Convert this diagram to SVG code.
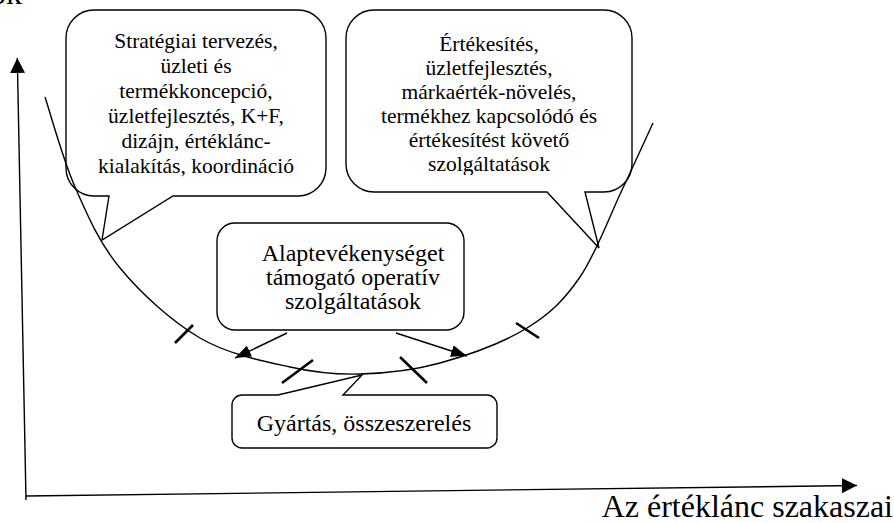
<svg xmlns="http://www.w3.org/2000/svg" width="894" height="523" viewBox="0 0 894 523">
<style>
.ln{fill:none;stroke:#000;stroke-width:1.4;stroke-linejoin:miter}
.bx{fill:#fff;stroke:#000;stroke-width:1.4}
.tk{stroke:#000;stroke-width:2.6;fill:none}
.t{font-family:"Liberation Serif","Times New Roman",serif;font-size:21.5px;fill:#000;text-anchor:middle}
.m{font-size:24px}
.big{font-family:"Liberation Serif","Times New Roman",serif;font-size:32px;fill:#000}
</style>
<defs>
<marker id="ah" viewBox="0 0 16 12" refX="16" refY="6" markerWidth="16" markerHeight="12" markerUnits="userSpaceOnUse" orient="auto">
<path d="M0,0 L16,6 L0,12 Z" fill="#000"/>
</marker>
<marker id="axh" viewBox="0 0 15 15" refX="15" refY="7.5" markerWidth="15" markerHeight="15" markerUnits="userSpaceOnUse" orient="auto">
<path d="M0,0 L15,7.5 L0,15 Z" fill="#000"/>
</marker>
<clipPath id="c2"><rect x="340" y="0" width="300" height="175"/></clipPath>
</defs>

<g id="axes">
<text class="big" x="-10" y="4">ok</text>
<line class="ln" x1="26" y1="500" x2="17.3" y2="58" marker-end="url(#axh)"/>
<line class="ln" x1="26" y1="496" x2="857" y2="485.5" marker-end="url(#axh)"/>
<text class="big" x="893" y="517" text-anchor="end">Az értéklánc szakaszai</text>
</g>

<g id="node-strategia">
<path class="bx" d="M94,10 H298 A28,28 0 0 1 326,38 V168 A28,28 0 0 1 298,196 H173 L102,240 L109,196 H94 A28,28 0 0 1 66,168 V38 A28,28 0 0 1 94,10 Z"/>
<text class="t" x="196" y="48">Stratégiai tervezés,</text>
<text class="t" x="196" y="73">üzleti és</text>
<text class="t" x="196" y="98">termékkoncepció,</text>
<text class="t" x="196" y="123">üzletfejlesztés, K+F,</text>
<text class="t" x="196" y="148">dizájn, értéklánc-</text>
<text class="t" x="196" y="173">kialakítás, koordináció</text>
</g>

<g id="node-ertekesites">
<path class="bx" d="M374,10 H604 A28,28 0 0 1 632,38 V164 A28,28 0 0 1 604,192 H585 L599,248 L547,192 H374 A28,28 0 0 1 346,164 V38 A28,28 0 0 1 374,10 Z"/>
<g clip-path="url(#c2)">
<text class="t" x="489" y="51">Értékesítés,</text>
<text class="t" x="489" y="75">üzletfejlesztés,</text>
<text class="t" x="489" y="99">márkaérték-növelés,</text>
<text class="t" x="489" y="123">termékhez kapcsolódó és</text>
<text class="t" x="489" y="147">értékesítést követő</text>
<text class="t" x="489" y="171">szolgáltatások</text>
</g>
</g>

<g id="node-alap">
<rect class="bx" x="217" y="223" width="247" height="107" rx="18" ry="18"/>
<text class="t m" x="353" y="261">Alaptevékenységet</text>
<text class="t m" x="353" y="285">támogató operatív</text>
<text class="t m" x="353" y="309">szolgáltatások</text>
</g>

<g id="node-gyartas">
<path class="bx" d="M242,395 H278 L362,375 L343,395 H487 A10,10 0 0 1 497,405 V438 A10,10 0 0 1 487,448 H242 A10,10 0 0 1 232,438 V405 A10,10 0 0 1 242,395 Z"/>
<text class="t m" x="364" y="431">Gyártás, összeszerelés</text>
</g>

<g id="connectors">
<path id="u-curve" class="ln" d="M45,97 C50,112 62.5,158.5 75,187 C87.5,215.5 99.2,242.8 120,268 C140.8,293.2 171.7,321.5 200,338 C228.3,354.5 263.3,361 290,367 C316.7,373 335,374.7 360,374 C385,373.3 412.2,370.7 440,363 C467.8,355.3 503.7,342.3 527,328 C550.3,313.7 564.2,300 580,277 C595.8,254 609.8,215.7 622,190 C634.2,164.3 647.8,134.2 653,123"/>
<line class="tk" x1="175" y1="343" x2="193" y2="325"/>
<line class="tk" x1="282" y1="383" x2="313" y2="360"/>
<line class="tk" x1="400" y1="357" x2="427" y2="383"/>
<line class="tk" x1="516" y1="323" x2="539" y2="338"/>
<line class="ln" x1="287" y1="333" x2="235" y2="358" marker-end="url(#ah)"/>
<line class="ln" x1="396" y1="333" x2="467" y2="356" marker-end="url(#ah)"/>
</g>
</svg>
